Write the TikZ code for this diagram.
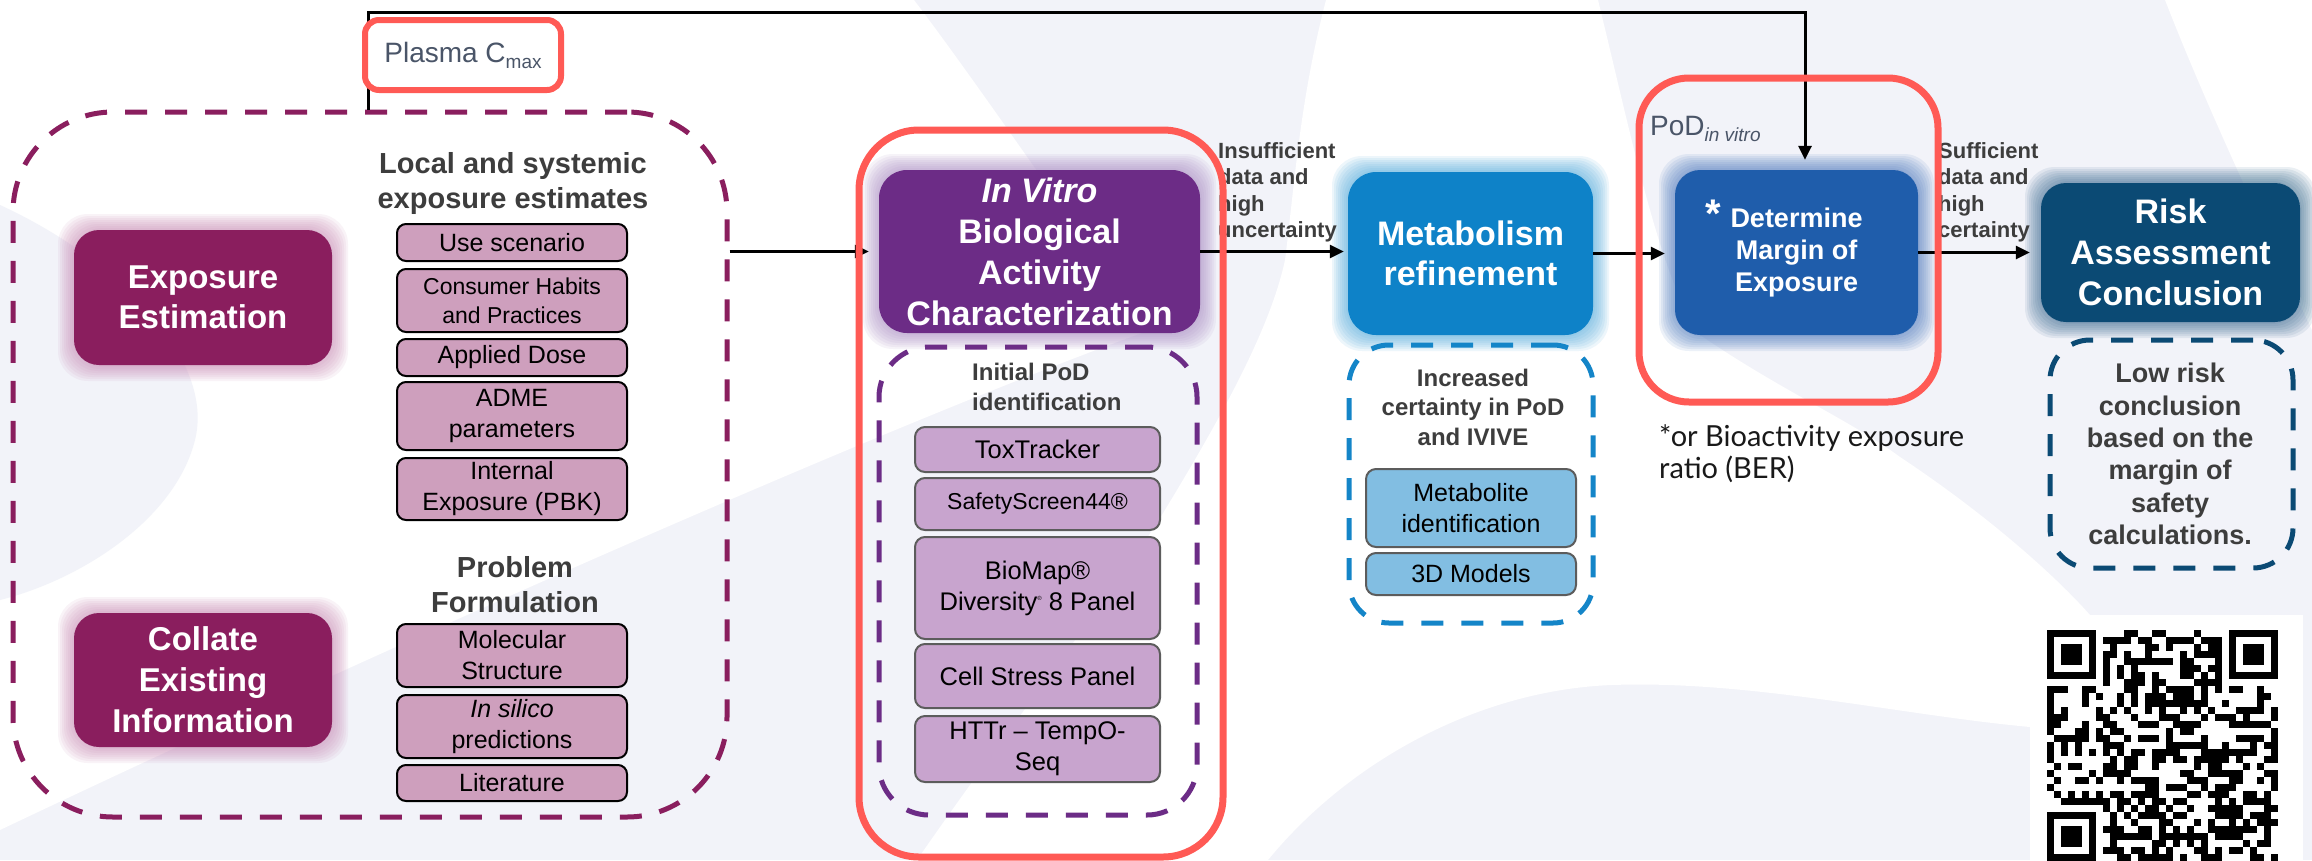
\documentclass[tikz,border=0pt]{standalone}
\usepackage{fontspec}
\setmainfont{Liberation Sans}
\newfontfamily\latofont{Lato}
\usetikzlibrary{arrows.meta}
\definecolor{bggray}{HTML}{F2F3F9}
\definecolor{expcol}{HTML}{8A1E5E}
\definecolor{pboxcol}{HTML}{CE9FBD}
\definecolor{ivcol}{HTML}{6C2C86}
\definecolor{tboxcol}{HTML}{C8A4CE}
\definecolor{metcol}{HTML}{0E82C8}
\definecolor{mboxcol}{HTML}{82BEE2}
\definecolor{detcol}{HTML}{1F5DAB}
\definecolor{riskcol}{HTML}{0B4A74}
\definecolor{dashblue}{HTML}{1485C8}
\definecolor{hlred}{HTML}{FF5A55}
\definecolor{txtgray}{HTML}{3D3D3D}
\definecolor{slate}{HTML}{4A5568}
\definecolor{boxedge}{HTML}{5C5C5C}
\definecolor{glowpink}{HTML}{C98BB5}
\definecolor{glowlav}{HTML}{A98BC3}
\definecolor{glowblue}{HTML}{4FA9DD}
\definecolor{glowdet}{HTML}{4A78BD}
\definecolor{glowrisk}{HTML}{39698F}
\newcommand\fsz[2]{\fontsize{#1}{#2}\selectfont}
\newcommand\glowbox[5]{\foreach \gl in {2,4,...,16}{\fill[#5, opacity=0.1, rounded corners=30pt] (#1-\gl,#2-\gl) rectangle (#3+\gl,#4+\gl);}}
\begin{document}
\begin{tikzpicture}[x=1pt,y=-1pt,
  every node/.style={inner sep=0pt},
  bigbox/.style={rounded corners=25pt, align=center, text=white},
  pbox/.style={draw=black, line width=2pt, fill=pboxcol, rounded corners=9pt, minimum width=230pt, align=center, font=\fsz{25}{31}},
  tbox/.style={draw=boxedge, line width=2pt, fill=tboxcol, rounded corners=10pt, minimum width=245pt, align=center, font=\fsz{25.5}{31}},
  mbox/.style={draw=boxedge, line width=2pt, fill=mboxcol, rounded corners=10pt, minimum width=210pt, align=center, font=\fsz{25}{31}},
  grp/.style={line width=5pt, dash pattern=on 22pt off 18pt},
  hl/.style={draw=hlred, line width=7pt},
  hd/.style={align=center, text=txtgray, font=\fsz{29}{35}\bfseries},
  lbl/.style={align=left, text=txtgray, font=\fsz{22}{26.6}\bfseries},
  arr/.style={line width=3pt, -{Triangle[length=14pt,width=13pt]}},
]
\useasboundingbox (0,0) rectangle (2312,860);
% background
\fill[bggray] (0,0) rectangle (2312,860);
\fill[white] (0,0) -- (914,0) .. controls (975,80) and (1070,220) .. (1150,330)
  .. controls (900,420) and (400,640) .. (0,830) -- cycle;
\fill[bggray] (0,205) .. controls (120,260) and (215,360) .. (195,440)
  .. controls (175,520) and (80,580) .. (0,600) -- cycle;
\fill[white] (1326,0) -- (1598,0) .. controls (1630,130) and (1660,280) .. (1700,335)
  .. controls (1780,390) and (1850,420) .. (1900,457)
  .. controls (1980,510) and (2050,570) .. (2090,615) -- (2090,727) -- (2030,727)
  .. controls (1900,715) and (1750,680) .. (1612,685)
  .. controls (1480,690) and (1350,760) .. (1268,860) -- (917,860)
  .. controls (1000,740) and (1100,610) .. (1157,523)
  .. controls (1220,420) and (1270,330) .. (1285,260)
  .. controls (1295,180) and (1300,100) .. (1326,0) -- cycle;
\fill[white] (2165,0) -- (2312,0) -- (2312,330) .. controls (2250,200) and (2200,90) .. (2165,0) -- cycle;

% glows
\glowbox{74}{230}{332}{365}{glowpink}
\glowbox{74}{613}{332}{747}{glowpink}
\glowbox{879}{170}{1200}{333}{glowlav}
\glowbox{1348}{172}{1593}{335}{glowblue}
\glowbox{1675}{170}{1918}{335}{glowdet}
\glowbox{2041}{183}{2300}{322}{glowrisk}

% left group
\node[grp, draw=expcol, rounded corners=100pt, minimum width=714pt, minimum height=705pt] (expgroup) at (370,464.5) {};
\node[bigbox, fill=expcol, minimum width=258pt, minimum height=135pt, font=\fsz{33}{40}\bfseries] (expo) at (203,297.5) {Exposure\\Estimation};
\node[bigbox, fill=expcol, minimum width=258pt, minimum height=134pt, font=\fsz{33}{41}\bfseries] (collate) at (203,680) {Collate\\Existing\\Information};
\node[hd] (h1) at (513,183) {Local and systemic\\exposure estimates};
\node[pbox, minimum height=37pt] (use) at (512,242.5) {Use scenario};
\node[pbox, minimum height=63pt, font=\fsz{23}{29}] (habits) at (512,300.5) {Consumer Habits\\and Practices};
\node[pbox, minimum height=37pt] (dose) at (512,357.5) {Applied Dose};
\node[pbox, minimum height=68pt] (adme) at (512,416) {ADME\\parameters};
\node[pbox, minimum height=62pt] (pbk) at (512,489) {Internal\\Exposure (PBK)};
\node[hd] (pf) at (515,585) {Problem\\Formulation};
\node[pbox, minimum height=63pt] (mol) at (512,655.5) {Molecular\\Structure};
\node[pbox, minimum height=63pt] (silico) at (512,726.5) {\textit{In silico}\\predictions};
\node[pbox, minimum height=36pt] (lit) at (512,783) {Literature};

% in vitro group
\node[bigbox, fill=ivcol, rounded corners=28pt, minimum width=321pt, minimum height=163pt, font=\fsz{34}{41}\bfseries] (invitro) at (1039.5,251.5) {\textit{In Vitro}\\Biological\\Activity\\Characterization};
\node[grp, draw=ivcol, rounded corners=50pt, minimum width=318pt, minimum height=468pt] (ivgroup) at (1038,581) {};
\node[align=left, text=txtgray, font=\fsz{24}{30}\bfseries, anchor=west] (h3) at (972,387) {Initial PoD\\identification};
\node[tbox, minimum height=45pt] (tox) at (1037.5,449.5) {ToxTracker};
\node[tbox, minimum height=52pt, font=\fsz{23}{29}] (safety) at (1037.5,504) {SafetyScreen44®};
\node[tbox, minimum height=102pt] (biomap) at (1037.5,588) {BioMap®\\Diversity\raisebox{10pt}{\fsz{6}{6}®} 8 Panel};
\node[tbox, minimum height=64pt] (cell) at (1037.5,676) {Cell Stress Panel};
\node[tbox, minimum height=66pt] (httr) at (1037.5,749) {HTTr – TempO-\\Seq};
\node[lbl, anchor=north west] (insuf) at (1218,142) {Insufficient\\data and\\high\\uncertainty};

% metabolism
\node[bigbox, fill=metcol, rounded corners=28pt, minimum width=245pt, minimum height=163pt, font=\fsz{34}{40}\bfseries] (metab) at (1470.5,253.5) {Metabolism\\refinement};
\node[grp, draw=dashblue, rounded corners=40pt, minimum width=244pt, minimum height=278pt] (mgroup) at (1471,484) {};
\node[align=center, text=txtgray, font=\fsz{24}{29.5}\bfseries] (h4) at (1473,407) {Increased\\certainty in PoD\\and IVIVE};
\node[mbox, minimum height=78pt] (metid) at (1471,508) {Metabolite\\identification};
\node[mbox, minimum height=42pt] (models) at (1471,574) {3D Models};

% determine
\node[bigbox, fill=detcol, minimum width=243pt, minimum height=165pt, font=\fsz{27}{32}\bfseries] (det) at (1796.5,252.5) {Determine\\Margin of\\Exposure};
\node[text=white, font=\fsz{40}{40}\bfseries] (star) at (1713,214) {*};
\node[anchor=base west, text=slate, font=\fsz{28}{30}] (pod) at (1650,135) {PoD{\fsz{19}{19}\itshape\raisebox{-6pt}{in vitro}}};
\node[lbl, anchor=north west] (suf) at (1938,142) {Sufficient\\data and\\high\\certainty};
\node[anchor=north west, align=left, text=black!90, font=\latofont\fsz{29}{32}] (ber) at (1659,424) {*or Bioactivity exposure\\ratio (BER)};

% risk
\node[bigbox, fill=riskcol, minimum width=259pt, minimum height=139pt, font=\fsz{34}{41}\bfseries] (risk) at (2170.5,252.5) {Risk\\Assessment\\Conclusion};
\node[grp, draw=riskcol, rounded corners=40pt, minimum width=243pt, minimum height=228pt] (rgroup) at (2171.5,454) {};
\node[align=center, text=txtgray, font=\fsz{27}{32.4}\bfseries] (h5) at (2170,454) {Low risk\\conclusion\\based on the\\margin of\\safety\\calculations.};

% arrows
\draw[arr, shorten >=10pt] (expgroup.east |- invitro.west) -- (invitro.west);
\draw[arr, shorten >=4pt] (invitro.east) -- (invitro.east -| metab.west);
\draw[arr, shorten >=10pt] (metab.east) -- (metab.east -| det.west);
\draw[arr, shorten >=11pt] (det.east) -- (det.east -| risk.west);
\coordinate (tl) at (368,12);
\coordinate (tr) at (1805,12);
\draw[arr, shorten >=10pt] (expgroup.north -| tl) -- (tl) -- (tr) -- (det.north -| tr);

% highlight boxes
\node[hl, rounded corners=60pt, minimum width=364pt, minimum height=727pt] (hlvitro) at (1041,493.5) {};
\node[hl, rounded corners=50pt, minimum width=299pt, minimum height=324pt] (hlpod) at (1788.5,240) {};
\node[hl, line width=6pt, fill=white, rounded corners=14pt, minimum width=196pt, minimum height=70pt, text=slate, font=\fsz{28}{30}] (plasma) at (463,55) {Plasma C{\fsz{19}{19}\raisebox{-6pt}{max}}};

% QR code
\fill[white] (2030,615) rectangle (2303,860);
\pgfmathsetseed{4242}
\foreach \qi in {0,...,32}{
  \foreach \qj in {0,...,32}{
    \pgfmathtruncatemacro\qskip{((\qi<8)&&(\qj<8))||((\qi>24)&&(\qj<8))||((\qi<8)&&(\qj>24))}
    \pgfmathtruncatemacro\qon{rnd<0.5}
    \ifnum\qskip=0 \ifnum\qon=1 \fill[black] (2047+7*\qi,630+7*\qj) rectangle ++(7,7); \fi\fi
  }
}
\foreach \fx/\fy in {0/0,26/0,0/26}{
  \fill[black] (2047+7*\fx,630+7*\fy) rectangle ++(49,49);
  \fill[white] (2054+7*\fx,637+7*\fy) rectangle ++(35,35);
  \fill[black] (2061+7*\fx,644+7*\fy) rectangle ++(21,21);
}
\end{tikzpicture}
\end{document}
